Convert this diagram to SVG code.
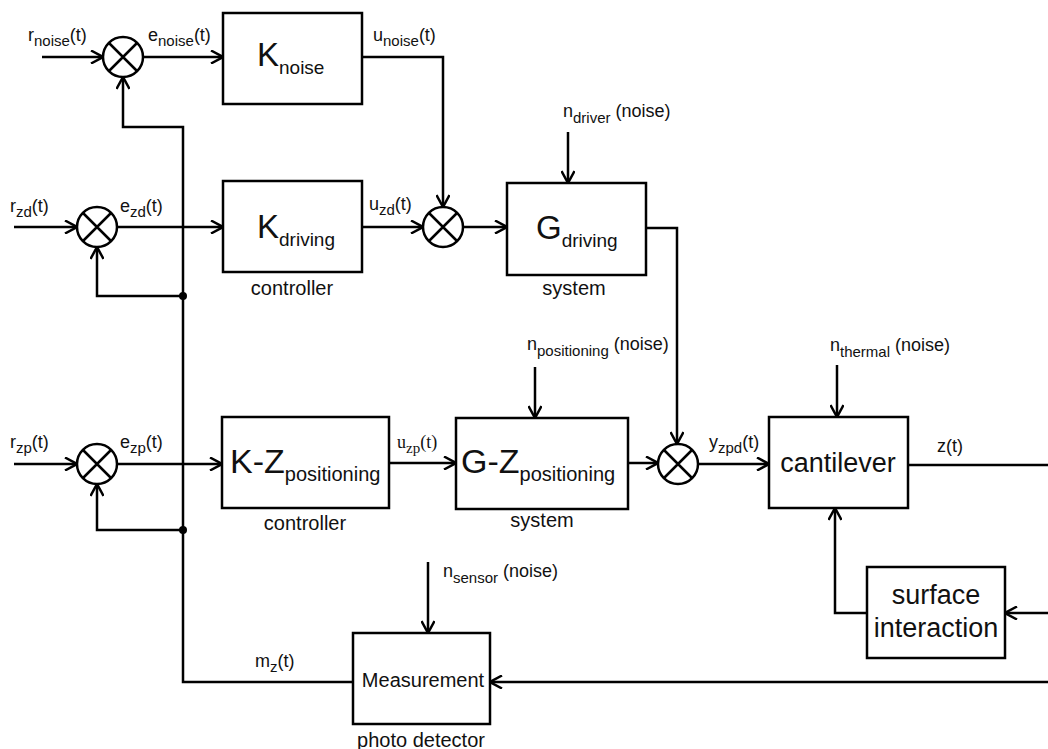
<svg xmlns="http://www.w3.org/2000/svg" width="1048" height="749" viewBox="0 0 1048 749">
<style>
.ln{fill:none;stroke:#000;stroke-width:2.5}
.bx{fill:#fff;stroke:#000;stroke-width:2.5}
.t{font-family:"Liberation Sans",Arial,sans-serif;fill:#111}
.s{font-family:"Liberation Serif","Times New Roman",serif;fill:#111}
.lb{font-size:18px}
.cap{font-size:20px;text-anchor:middle}
.big{font-size:33px}
</style>
<defs>
<marker id="ar" viewBox="0 0 14 14" refX="13" refY="7" markerWidth="14" markerHeight="14" markerUnits="userSpaceOnUse" orient="auto">
<path d="M1,0.5 L13,7 L1,13.5" fill="none" stroke="#000" stroke-width="2.5"/>
</marker>
</defs>
<rect width="1048" height="749" fill="#fff"/>

<g id="connectors" class="ln">
<path d="M42,57 H103" marker-end="url(#ar)"/>
<path d="M143,57 H223" marker-end="url(#ar)"/>
<path d="M353,682 H183 V127 H123 V77" marker-end="url(#ar)"/>
<path d="M183,296 H97 V247" marker-end="url(#ar)"/>
<path d="M183,530 H97 V484" marker-end="url(#ar)"/>
<path d="M362,57 H443 V207" marker-end="url(#ar)"/>
<path d="M14,227 H77" marker-end="url(#ar)"/>
<path d="M117,227 H223" marker-end="url(#ar)"/>
<path d="M362,227 H423" marker-end="url(#ar)"/>
<path d="M463,227 H507" marker-end="url(#ar)"/>
<path d="M568,132 V183" marker-end="url(#ar)"/>
<path d="M646,228 H677 V444" marker-end="url(#ar)"/>
<path d="M14,464 H77" marker-end="url(#ar)"/>
<path d="M117,464 H222" marker-end="url(#ar)"/>
<path d="M389,463 H456" marker-end="url(#ar)"/>
<path d="M535,367 V418" marker-end="url(#ar)"/>
<path d="M628,463 H658" marker-end="url(#ar)"/>
<path d="M698,464 H769" marker-end="url(#ar)"/>
<path d="M837,365 V417" marker-end="url(#ar)"/>
<path d="M908,465 H1048"/>
<path d="M867,613 H835 V508" marker-end="url(#ar)"/>
<path d="M1048,613 H1005" marker-end="url(#ar)"/>
<path d="M1048,682 H490" marker-end="url(#ar)"/>
<path d="M428,562 V633" marker-end="url(#ar)"/>
<circle cx="183" cy="296" r="4" fill="#000" stroke="none"/>
<circle cx="183" cy="530" r="4" fill="#000" stroke="none"/>
</g>

<g id="sum1"><circle class="bx" cx="123" cy="57" r="20"/><path class="ln" d="M109,43 L137,71 M137,43 L109,71"/></g>
<g id="sum2"><circle class="bx" cx="97" cy="227" r="20"/><path class="ln" d="M83,213 L111,241 M111,213 L83,241"/></g>
<g id="sum3"><circle class="bx" cx="97" cy="464" r="20"/><path class="ln" d="M83,450 L111,478 M111,450 L83,478"/></g>
<g id="sum4"><circle class="bx" cx="443" cy="227" r="20"/><path class="ln" d="M429,213 L457,241 M457,213 L429,241"/></g>
<g id="sum5"><circle class="bx" cx="678" cy="464" r="20"/><path class="ln" d="M664,450 L692,478 M692,450 L664,478"/></g>

<g id="k-noise"><rect class="bx" x="223" y="13" width="139" height="91"/>
<text class="t big" x="257" y="66">K<tspan font-size="19" dy="8">noise</tspan></text></g>

<g id="k-driving"><rect class="bx" x="223" y="181" width="139" height="91"/>
<text class="t big" x="257" y="238">K<tspan font-size="19" dy="8">driving</tspan></text>
<text class="t cap" x="292" y="295">controller</text></g>

<g id="g-driving"><rect class="bx" x="507" y="183" width="139" height="92"/>
<text class="t big" x="536" y="239">G<tspan font-size="19" dy="8">driving</tspan></text>
<text class="t cap" x="574" y="295">system</text></g>

<g id="kz-positioning"><rect class="bx" x="222" y="417" width="167" height="91"/>
<text class="t" font-size="34" x="230" y="473">K-Z<tspan font-size="20" dy="8">positioning</tspan></text>
<text class="t cap" x="305" y="530">controller</text></g>

<g id="gz-positioning"><rect class="bx" x="456" y="418" width="172" height="91"/>
<text class="t" font-size="34" x="461" y="473">G-Z<tspan font-size="20" dy="8">positioning</tspan></text>
<text class="t cap" x="542" y="527">system</text></g>

<g id="cantilever"><rect class="bx" x="769" y="417" width="139" height="91"/>
<text class="t" font-size="27" x="838" y="472" text-anchor="middle">cantilever</text></g>

<g id="surface"><rect class="bx" x="867" y="567" width="138" height="91"/>
<text class="t" font-size="27" text-anchor="middle"><tspan x="936" y="604">surface</tspan><tspan x="936" y="637">interaction</tspan></text></g>

<g id="measurement"><rect class="bx" x="353" y="633" width="137" height="91"/>
<text class="t" font-size="20" x="423" y="687" text-anchor="middle">Measurement</text>
<text class="t cap" x="421" y="747">photo detector</text></g>

<g id="labels">
<text class="t lb" x="28" y="41">r<tspan font-size="15" dy="5">noise</tspan><tspan dy="-5">(t)</tspan></text>
<text class="t lb" x="148" y="41">e<tspan font-size="15" dy="5">noise</tspan><tspan dy="-5">(t)</tspan></text>
<text class="t lb" x="373" y="41">u<tspan font-size="15" dy="5">noise</tspan><tspan dy="-5">(t)</tspan></text>
<text class="t lb" x="563" y="117">n<tspan font-size="15" dy="6">driver</tspan><tspan dy="-6"> (noise)</tspan></text>
<text class="t lb" x="10" y="212">r<tspan font-size="15" dy="5">zd</tspan><tspan dy="-5">(t)</tspan></text>
<text class="t lb" x="120" y="212">e<tspan font-size="15" dy="5">zd</tspan><tspan dy="-5">(t)</tspan></text>
<text class="t lb" x="369" y="210">u<tspan font-size="15" dy="5">zd</tspan><tspan dy="-5">(t)</tspan></text>
<text class="t lb" x="527" y="350">n<tspan font-size="15" dy="6">positioning</tspan><tspan dy="-6"> (noise)</tspan></text>
<text class="t lb" x="830" y="351">n<tspan font-size="15" dy="6">thermal</tspan><tspan dy="-6"> (noise)</tspan></text>
<text class="t lb" x="10" y="448">r<tspan font-size="15" dy="5">zp</tspan><tspan dy="-5">(t)</tspan></text>
<text class="t lb" x="120" y="448">e<tspan font-size="15" dy="5">zp</tspan><tspan dy="-5">(t)</tspan></text>
<text class="s lb" x="397" y="448">u<tspan font-size="15" dy="5">zp</tspan><tspan dy="-5">(t)</tspan></text>
<text class="t lb" x="709" y="448">y<tspan font-size="15" dy="5">zpd</tspan><tspan dy="-5">(t)</tspan></text>
<text class="t lb" x="937" y="452">z(t)</text>
<text class="t lb" x="443" y="577">n<tspan font-size="15" dy="6">sensor</tspan><tspan dy="-6"> (noise)</tspan></text>
<text class="t lb" x="255" y="667">m<tspan font-size="15" dy="5">z</tspan><tspan dy="-5">(t)</tspan></text>
</g>
</svg>
